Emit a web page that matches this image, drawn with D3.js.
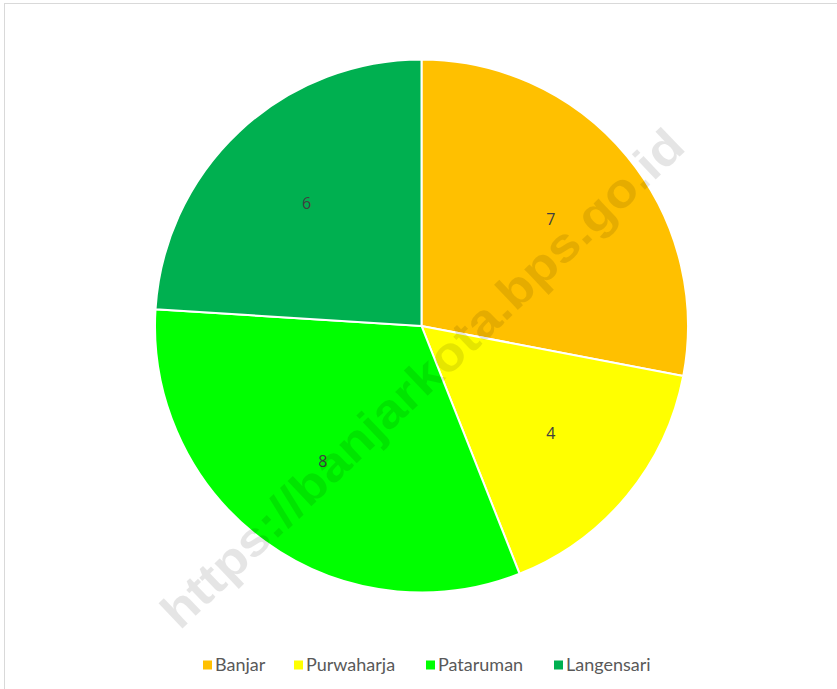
<!DOCTYPE html>
<html>
<head>
<meta charset="utf-8">
<script src="https://cdn.jsdelivr.net/npm/d3@7"></script>
<style>
  body { margin: 0; background: #fff; }
</style>
</head>
<body>
<script>
// values
var categories = ["Banjar", "Purwaharja", "Pataruman", "Langensari"];
var values = [7, 4, 8, 6];
var colors = ["#FFC000", "#FFFF00", "#00FF00", "#00B050"];

var svgWidth = 837, svgHeight = 689;
var cx = 421.5, cy = 326, radius = 266.5;

var svg = d3.select("body")
            .append("svg")
            .attr("width", svgWidth)
            .attr("height", svgHeight);

// chart area border, runs off the right and bottom of the window
svg.append("rect")
   .attr("x", 4.5)
   .attr("y", 3.5)
   .attr("width", svgWidth + 10)
   .attr("height", svgHeight + 10)
   .attr("fill", "#fff")
   .attr("stroke", "#d9d9d9")
   .attr("stroke-width", 1);

var data = categories.map(function(c, i) { return { name: c, value: values[i], color: colors[i] }; });

var pie = d3.pie()
            .sort(null)
            .value(function(d) { return d.value; });

var arc = d3.arc().innerRadius(0).outerRadius(radius);
var labelArc = d3.arc().innerRadius(radius * 0.63).outerRadius(radius * 0.63);

var g = svg.append("g").attr("transform", "translate(" + cx + "," + cy + ")");

var slices = g.selectAll("g.slice")
              .data(pie(data))
              .enter()
              .append("g")
              .attr("class", "slice");

slices.append("path")
      .attr("d", arc)
      .attr("fill", function(d) { return d.data.color; })
      .attr("stroke", "#fff")
      .attr("stroke-width", 2);

slices.append("text")
      .attr("transform", function(d) { return "translate(" + labelArc.centroid(d) + ")"; })
      .attr("text-anchor", "middle")
      .attr("dy", "0.35em")
      .style("font-family", "'Open Sans', Lato, sans-serif")
      .style("font-size", "16px")
      .attr("fill", "#404040")
      .text(function(d) { return d.data.value; });

// legend
var legendX = [203, 294, 426, 554];
var legend = svg.append("g").attr("transform", "translate(0,665)");
var item = legend.selectAll("g")
                 .data(data)
                 .enter()
                 .append("g")
                 .attr("transform", function(d, i) { return "translate(" + legendX[i] + ",0)"; });
item.append("rect")
    .attr("x", 0)
    .attr("y", -4.5)
    .attr("width", 9)
    .attr("height", 9)
    .attr("fill", function(d) { return d.color; });
item.append("text")
    .attr("x", 12)
    .attr("dy", "0.35em")
    .style("font-family", "Lato, 'Open Sans', sans-serif")
    .style("font-size", "18px")
    .attr("fill", "#595959")
    .text(function(d) { return d.name; });

// watermark
svg.append("text")
   .attr("transform", "translate(422,378) rotate(-43.5)")
   .attr("text-anchor", "middle")
   .attr("dy", "0.35em")
   .attr("textLength", 700)
   .attr("lengthAdjust", "spacingAndGlyphs")
   .style("font-family", "'Liberation Sans', Arial, sans-serif")
   .style("font-weight", "bold")
   .style("font-size", "48px")
   .attr("fill", "#000")
   .attr("fill-opacity", 0.1)
   .text("https://banjarkota.bps.go.id");
</script>
</body>
</html>
